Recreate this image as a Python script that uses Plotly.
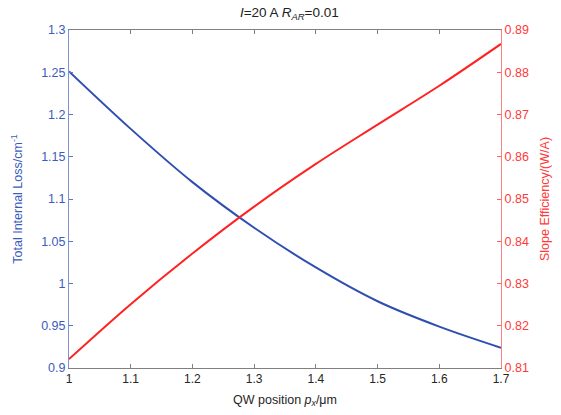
import plotly.graph_objects as go

qw_position = [1.0, 1.1, 1.2, 1.3, 1.4, 1.5, 1.6, 1.7]
total_loss = [1.251, 1.183, 1.120, 1.066, 1.019, 0.979, 0.949, 0.924]
slope_eff = [0.8121, 0.8251, 0.8371, 0.8482, 0.8583, 0.8676, 0.8768, 0.8867]

x_ticks = [1.0, 1.1, 1.2, 1.3, 1.4, 1.5, 1.6, 1.7]
x_ticklabels = ["1", "1.1", "1.2", "1.3", "1.4", "1.5", "1.6", "1.7"]
left_ticks = [0.9, 0.95, 1.0, 1.05, 1.1, 1.15, 1.2, 1.25, 1.3]
left_ticklabels = ["0.9", "0.95", "1", "1.05", "1.1", "1.15", "1.2", "1.25", "1.3"]
right_ticks = [0.81, 0.82, 0.83, 0.84, 0.85, 0.86, 0.87, 0.88, 0.89]
right_ticklabels = ["0.81", "0.82", "0.83", "0.84", "0.85", "0.86", "0.87", "0.88", "0.89"]

BLUE = "#2f4fb0"
BLUE_TXT = "#3c5cbc"
RED = "#ff2222"
RED_TXT = "#ff3a3a"
FONT = "Liberation Sans, Arial, sans-serif"

fig = go.Figure()
fig.add_trace(go.Scatter(x=qw_position, y=total_loss, mode="lines",
                         line=dict(color=BLUE, width=2, shape="spline", smoothing=1.0),
                         yaxis="y", showlegend=False))
fig.add_trace(go.Scatter(x=qw_position, y=slope_eff, mode="lines",
                         line=dict(color=RED, width=2, shape="spline", smoothing=1.0),
                         yaxis="y2", showlegend=False))

fig.update_layout(
    width=561, height=415,
    margin=dict(l=69, r=60, t=30, b=47, autoexpand=False),
    paper_bgcolor="white", plot_bgcolor="white",
    font=dict(family=FONT, size=12, color="#333333"),
    title=dict(text="<i>I</i>=20 A <i>R</i><sub><i>AR</i></sub>=0.01",
               x=0.51, xref="paper", xanchor="center", y=0.97, yanchor="middle",
               font=dict(family=FONT, size=13.5, color="#222222")),
    xaxis=dict(range=[1.0, 1.7], tickvals=x_ticks, ticktext=x_ticklabels,
               automargin=False,
               showline=True, linecolor="#808080", linewidth=1, mirror="ticks",
               ticks="inside", ticklen=4, tickcolor="#808080",
               showgrid=False, zeroline=False,
               tickfont=dict(color="#262626", size=12),
               title=dict(text="QW position <i>p</i><sub><i>x</i></sub>/μm", standoff=9,
                          font=dict(color="#262626", size=12.5))),
    yaxis=dict(range=[0.9, 1.3], tickvals=left_ticks, ticktext=left_ticklabels,
               automargin=False,
               showline=True, linecolor="#8090d0", linewidth=1,
               ticks="inside", ticklen=4, tickcolor="#5a74c8",
               showgrid=False, zeroline=False,
               tickfont=dict(color=BLUE_TXT, size=12.5),
               title=dict(text="Total Internal Loss/cm<sup>-1</sup>", standoff=15,
                          font=dict(color=BLUE_TXT, size=12.5))),
    yaxis2=dict(range=[0.81, 0.89], tickvals=right_ticks, ticktext=right_ticklabels,
                automargin=False,
                overlaying="y", side="right",
                showline=True, linecolor="#ff8080", linewidth=1,
                ticks="inside", ticklen=4, tickcolor="#ff6060",
                showgrid=False, zeroline=False,
                tickfont=dict(color=RED_TXT, size=12.5),
                title=dict(text="Slope Efficiency/(W/A)", standoff=12,
                           font=dict(color=RED_TXT, size=12.5))),
)

fig.write_html("out.html", config={"displayModeBar": False},
               post_script="document.body.style.margin='0px';")
